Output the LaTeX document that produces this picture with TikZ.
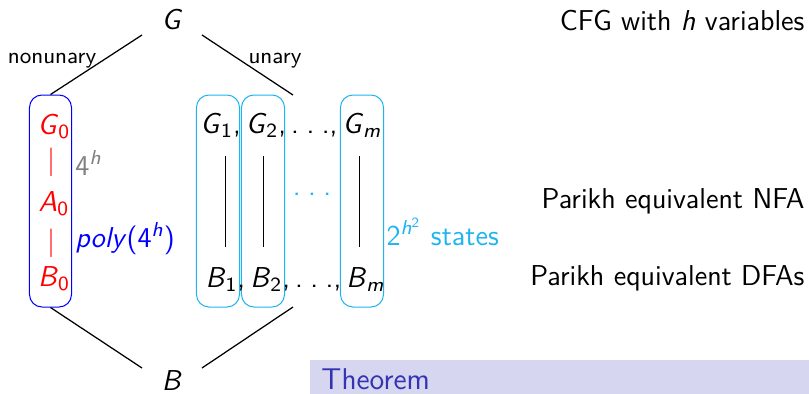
\documentclass[tikz,border=0pt]{standalone}
\usepackage{tikz}
\usetikzlibrary{positioning}
\renewcommand{\familydefault}{\sfdefault}
\definecolor{ucyan}{HTML}{1EB4F0}
\definecolor{thmbg}{HTML}{D6D6F0}
\definecolor{thmfg}{HTML}{3333B3}
\newcommand{\vv}[2]{\textit{#1}\textsubscript{#2}}
\newcommand{\rowdots}{.\kern3pt.\kern3pt.}
\tikzset{
  nbox/.style={draw=blue,rounded corners=5pt,minimum width=16.8pt,minimum height=84.8pt,inner sep=0pt},
  ubox/.style={draw=ucyan,rounded corners=5pt,minimum width=17.2pt,minimum height=84.8pt,inner sep=0pt},
  tline/.style={line width=0.5pt,draw=black},
  vbar/.style={line width=0.4pt,draw=black},
  vtxt/.style={inner sep=0pt},
  vlab/.style={inner sep=0pt,font=\fontsize{9}{11}\selectfont}
}

\begin{document}
\begin{tikzpicture}[x=0.4pt,y=-0.4pt,font=\fontsize{11.5}{13.5}\selectfont]
  \useasboundingbox (0,0) rectangle (809,394);
  \node[nbox] (box0) at (50.5,201) {};
  \node[ubox] (box1) at (218,201) {};
  \node[ubox] (box2) at (263,201) {};
  \node[ubox] (boxm) at (362,201) {};
  \node[vtxt,anchor=base] (g) at (172,29) {\textit{G}};
  \node[vtxt,anchor=base] (b) at (172,390) {\textit{B}};
  \coordinate (gl) at (142,35); \coordinate (gr) at (202,35);
  \coordinate (bl) at (142,368); \coordinate (br) at (202,368);
  \coordinate (ut) at (293,95); \coordinate (ub) at (293,307);
  \draw[tline] (gl)--(box0.north); \draw[tline] (gr)--(ut);
  \draw[tline] (box0.south)--(bl); \draw[tline] (ub)--(br);
  \node[vlab,anchor=base] (non) at (52,63) {nonunary};
  \node[vlab,anchor=base] (un) at (275,63) {unary};
  \node[vtxt,anchor=base,text=red] (g0) at (54,134) {\vv{G}{0}};
  \node[vtxt,text=red] (bar1) at (51,162) {|};
  \node[vtxt,anchor=base,text=red] (a0) at (54,211) {\vv{A}{0}};
  \node[vtxt,text=red] (bar2) at (51,243) {|};
  \node[vtxt,anchor=base,text=red] (b0) at (54,286) {\vv{B}{0}};
  \node[vtxt,anchor=base west,text=gray] (cost0) at (75,175) {4\textsuperscript{\textit{h}}};
  \node[vtxt,anchor=base west,text=blue] (poly) at (75,247) {\textit{poly}(4\textsuperscript{\textit{h}})};
  \node[vtxt,anchor=base west] (grow) at (200,133) {\vv{G}{1},\kern2pt\vv{G}{2},\kern2pt\rowdots,\kern2pt\vv{G}{\textit{m}}};
  \node[vtxt,anchor=base west] (brow) at (205,287) {\vv{B}{1},\kern2pt\vv{B}{2},\kern2pt\rowdots,\kern2pt\vv{B}{\textit{m}}};
  \foreach \x [count=\i] in {225,263,359}{
    \coordinate (t\i) at (\x,156); \coordinate (d\i) at (\x,247);
    \draw[vbar] (t\i)--(d\i);
  }
  \node[vtxt,anchor=base,text=ucyan] (dots) at (312,195) {\rowdots};
  \node[vtxt,anchor=base west,text=ucyan] (st) at (386,245) {2\textsuperscript{\textit{h}\textsuperscript{2}} states};
  \node[vtxt,anchor=base east] (cfg) at (805,30) {CFG with \textit{h} variables};
  \node[vtxt,anchor=base east] (nfa) at (805,208) {Parikh equivalent NFA};
  \node[vtxt,anchor=base east] (dfa) at (805,285) {Parikh equivalent DFAs};
  \fill[thmbg] (310,360) rectangle (809,394);
  \node[vtxt,anchor=base west,text=thmfg,font=\fontsize{12}{14}\selectfont] (thm) at (321,389) {Theorem};
\end{tikzpicture}
\end{document}
